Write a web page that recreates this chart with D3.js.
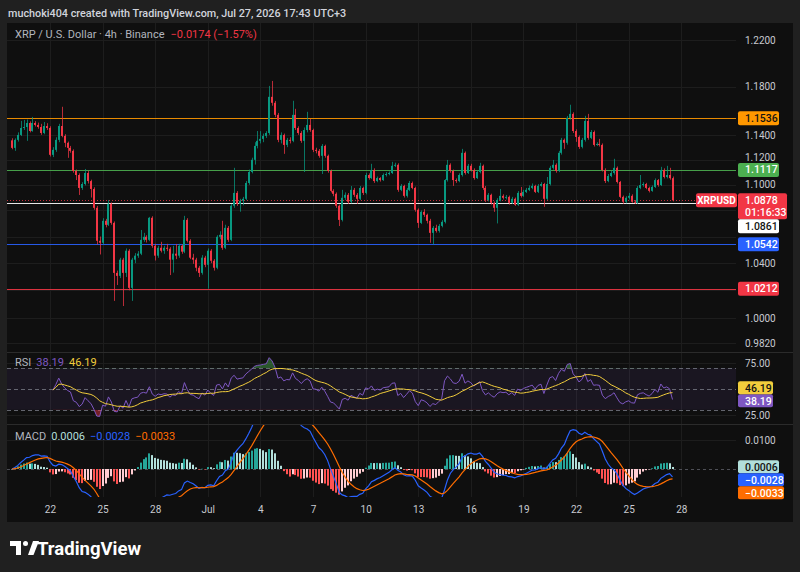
<!DOCTYPE html>
<html>
<head>
<meta charset="utf-8">
<script src="https://cdn.jsdelivr.net/npm/d3@7"></script>
<style>
html,body{margin:0;padding:0;background:#202020;}
svg{display:block;font-family:Roboto,"Noto Sans",sans-serif;}
</style>
</head>
<body>
<svg id="chart" width="800" height="572"></svg>
<script>
// XRP / U.S. Dollar, 4h candles, Binance
const firstCandle = Date.UTC(2026, 5, 19, 23); // local UTC+3 time, stored as UTC fields
const firstOpen = 1.1355;

const closes = [
  1.1294,1.1359,1.1399,1.1456,1.1464,1.1497,1.1431,1.1497,1.1481,1.1464,
  1.1415,1.1472,1.1456,1.1238,1.1278,1.1359,1.1472,1.1391,1.1335,1.1294,
  1.1270,1.1109,1.1077,1.0975,1.1006,1.1093,1.1029,1.0967,1.0820,1.0568,
  1.0553,1.0720,1.0689,1.0851,1.0704,1.0328,1.0306,1.0426,1.0328,1.0493,
  1.0218,1.0426,1.0456,1.0471,1.0575,1.0598,1.0575,1.0743,1.0530,1.0456,
  1.0515,1.0493,1.0515,1.0508,1.0426,1.0471,1.0456,1.0530,1.0486,1.0727,
  1.0568,1.0441,1.0426,1.0366,1.0328,1.0441,1.0388,1.0493,1.0418,1.0366,
  1.0598,1.0613,1.0515,1.0666,1.0575,1.0836,1.0936,1.0851,1.0875,1.0890,
  1.1014,1.1101,1.1198,1.1310,1.1351,1.1367,1.1391,1.1415,1.1714,1.1664,
  1.1564,1.1359,1.1399,1.1318,1.1359,1.1351,1.1564,1.1456,1.1415,1.1351,
  1.1439,1.1481,1.1439,1.1278,1.1270,1.1230,1.1310,1.1230,1.1109,1.0952,
  1.0929,1.0836,1.0727,1.0898,1.0921,1.0867,1.0960,1.0921,1.0890,1.0975,
  1.0936,1.1077,1.1053,1.1117,1.1029,1.1053,1.1037,1.1077,1.1085,1.1093,
  1.1150,1.1158,1.0960,1.0991,1.0913,1.0960,1.1014,1.0975,1.0805,1.0704,
  1.0789,1.0766,1.0720,1.0628,1.0666,1.0643,1.0681,1.0712,1.1037,1.1158,
  1.1109,1.1037,1.1029,1.1077,1.1254,1.1093,1.1150,1.1117,1.1053,1.1101,
  1.1150,1.0975,1.0881,1.0921,1.0859,1.0820,1.0881,1.0913,1.0898,1.0905,
  1.0859,1.0890,1.0844,1.0936,1.0913,1.0944,1.0960,1.0975,1.0991,1.0944,
  1.0991,1.1006,1.0890,1.1006,1.1134,1.1158,1.1109,1.1254,1.1359,1.1335,
  1.1539,1.1572,1.1431,1.1383,1.1302,1.1359,1.1514,1.1375,1.1423,1.1318,
  1.1326,1.1318,1.1117,1.1029,1.1069,1.1093,1.1134,1.1022,1.0905,1.0867,
  1.0898,1.0913,1.0867,1.0859,1.0975,1.0998,1.1006,1.0975,1.0952,1.0983,
  1.1037,1.0998,1.1117,1.1061,1.1077,1.1052,1.0878
];

const highs = [
  1.1372,1.1371,1.1420,1.1514,1.1522,1.1525,1.1510,1.1547,1.1512,1.1500,
  1.1490,1.1505,1.1495,1.1470,1.1300,1.1380,1.1490,1.1631,1.1405,1.1345,
  1.1310,1.1282,1.1120,1.1090,1.1020,1.1125,1.1110,1.1040,1.0980,1.0835,
  1.0600,1.0740,1.0735,1.0881,1.0862,1.0715,1.0345,1.0440,1.0440,1.0510,
  1.0505,1.0440,1.0475,1.0490,1.0650,1.0628,1.0610,1.0750,1.0755,1.0545,
  1.0530,1.0560,1.0530,1.0545,1.0520,1.0530,1.0544,1.0545,1.0540,1.0758,
  1.0740,1.0580,1.0470,1.0440,1.0380,1.0460,1.0455,1.0510,1.0505,1.0430,
  1.0610,1.0640,1.0720,1.0690,1.0680,1.0850,1.1134,1.0950,1.0890,1.0905,
  1.1030,1.1120,1.1215,1.1340,1.1431,1.1430,1.1410,1.1430,1.1806,1.1848,
  1.1680,1.1580,1.1420,1.1410,1.1375,1.1380,1.1681,1.1614,1.1470,1.1430,
  1.1460,1.1589,1.1530,1.1450,1.1295,1.1285,1.1325,1.1320,1.1240,1.1120,
  1.0965,1.0940,1.0845,1.0960,1.0940,1.0935,1.0990,1.0975,1.0935,1.0990,
  1.0985,1.1095,1.1090,1.1166,1.1130,1.1065,1.1060,1.1090,1.1100,1.1105,
  1.1182,1.1175,1.1170,1.1005,1.1000,1.0975,1.1030,1.1025,1.0985,1.0815,
  1.0800,1.0810,1.0775,1.0735,1.0680,1.0690,1.0695,1.0725,1.1045,1.1197,
  1.1170,1.1120,1.1050,1.1090,1.1286,1.1265,1.1165,1.1166,1.1130,1.1115,
  1.1174,1.1160,1.0990,1.0935,1.0930,1.0870,1.0895,1.0967,1.0925,1.0920,
  1.0915,1.0905,1.0900,1.0950,1.0983,1.0960,1.0975,1.0995,1.1010,1.1000,
  1.1005,1.1020,1.1015,1.1061,1.1150,1.1197,1.1170,1.1270,1.1375,1.1370,
  1.1555,1.1648,1.1585,1.1445,1.1395,1.1375,1.1556,1.1572,1.1439,1.1435,
  1.1340,1.1367,1.1330,1.1130,1.1085,1.1110,1.1206,1.1145,1.1030,1.0915,
  1.0910,1.0936,1.0925,1.0880,1.0990,1.1077,1.1020,1.1015,1.0985,1.0995,
  1.1050,1.1045,1.1142,1.1130,1.1150,1.1134,1.1065
];

const lows = [
  1.1283,1.1270,1.1345,1.1390,1.1440,1.1351,1.1420,1.1425,1.1468,1.1450,
  1.1400,1.1405,1.1440,1.1225,1.1220,1.1262,1.1340,1.1380,1.1300,1.1214,
  1.1255,1.1095,1.1037,1.0920,1.0960,1.0995,1.1010,1.0900,1.0805,1.0540,
  1.0465,1.0540,1.0670,1.0680,1.0690,1.0123,1.0239,1.0290,1.0086,1.0298,
  1.0200,1.0123,1.0400,1.0440,1.0460,1.0560,1.0555,1.0565,1.0515,1.0420,
  1.0440,1.0480,1.0470,1.0490,1.0312,1.0330,1.0430,1.0440,1.0470,1.0475,
  1.0555,1.0430,1.0395,1.0340,1.0298,1.0315,1.0370,1.0212,1.0400,1.0345,
  1.0355,1.0580,1.0500,1.0505,1.0560,1.0565,1.0820,1.0835,1.0790,1.0840,
  1.0880,1.1000,1.1090,1.1160,1.1290,1.1330,1.1340,1.1375,1.1400,1.1640,
  1.1545,1.1340,1.1330,1.1246,1.1300,1.1330,1.1340,1.1440,1.1400,1.1335,
  1.1101,1.1420,1.1425,1.1260,1.1250,1.1215,1.1085,1.1215,1.1095,1.0940,
  1.0910,1.0820,1.0680,1.0715,1.0880,1.0850,1.0855,1.0905,1.0850,1.0880,
  1.0920,1.0925,1.1040,1.1045,1.1015,1.1020,1.1025,1.1030,1.1065,1.1075,
  1.1085,1.1140,1.0945,1.0950,1.0900,1.0900,1.0950,1.0965,1.0790,1.0666,
  1.0695,1.0750,1.0700,1.0553,1.0540,1.0630,1.0630,1.0670,1.0700,1.1025,
  1.1095,1.0991,1.1015,1.1020,1.1065,1.1080,1.1085,1.1105,1.1040,1.1045,
  1.1090,1.0960,1.0865,1.0870,1.0845,1.0789,1.0700,1.0870,1.0885,1.0885,
  1.0845,1.0850,1.0835,1.0835,1.0900,1.0905,1.0935,1.0950,1.0965,1.0935,
  1.0935,1.0985,1.0828,1.0880,1.0995,1.1120,1.1095,1.1100,1.1240,1.1286,
  1.1320,1.1525,1.1415,1.1343,1.1286,1.1290,1.1345,1.1360,1.1365,1.1305,
  1.1310,1.1305,1.1105,1.1014,1.1020,1.1060,1.1080,1.1010,1.0895,1.0851,
  1.0855,1.0885,1.0860,1.0850,1.0850,1.0965,1.0985,1.0965,1.0940,1.0945,
  1.0975,1.0985,1.0990,1.1050,1.1050,1.1040,1.0870
];

// horizontal drawings on the chart
const levelValues = [1.1536, 1.1117, 1.0861, 1.0542, 1.0212];
const levelColors = ['#ff9800', '#4caf50', '#ffffff', '#2962ff', '#f23645'];
const levelText   = ['#131313', '#ffffff', '#131313', '#ffffff', '#ffffff'];

const priceTicks = [1.22, 1.18, 1.14, 1.12, 1.10, 1.08, 1.06, 1.04, 1.02, 1.00, 0.982];
const rsiTicks = [75, 25];
const macdTicks = [0.01];
const tickDays = [[6,22],[6,25],[6,28],[7,1],[7,4],[7,7],[7,10],[7,13],[7,16],[7,19],[7,22],[7,25],[7,28]];

const headerText = 'muchoki404 created with TradingView.com, Jul 27, 2026 17:43 UTC+3';
const symbolText = 'XRP / U.S. Dollar \u00b7 4h \u00b7 Binance';
const changeText = '\u22120.0174 (\u22121.57%)';
const countdown = '01:16:33';
const rsiLegend = [38.19, 46.19];
const macdLegend = [0.0006, -0.0028, -0.0033];

// ---------------------------------------------------------------
const svg = d3.select('#chart');
const W = 800, H = 572;
const L = 7, R = 793, T = 23, B = 522, PX = 736;
const mainTop = T, mainBot = 352, rsiTop = 353, rsiBot = 424, macdTop = 425, macdBot = 497;
const UP = '#089981', DOWN = '#f23645';
const AXIS_TXT = '#c8cad0';
const GRID = '#1d1d1d';

const n = closes.length;
const times = closes.map((_, i) => d3.utcHour.offset(new Date(firstCandle), 4 * i));
const opens = closes.map((c, i) => i === 0 ? firstOpen : closes[i - 1]);

const x = d3.scaleUtc().domain([times[0], times[n - 1]]).range([12, 672.5]);
const y = d3.scaleLog().domain([1.0, 1.22]).range([318, 40]);
const yR = d3.scaleLinear().domain([25, 75]).range([415, 363]);
const yM = d3.scaleLinear().domain([0, 0.01]).range([469, 440]);

// indicators (RSI 14 with its 14-bar SMA, MACD 12/26/9)
const RSI_LEN = 14;
const rsi = [], rsiMA = [];
let ag = 0, al = 0;
for (let i = 1; i < n; i++) {
  const ch = closes[i] - closes[i - 1];
  const k = Math.min(i, RSI_LEN);
  ag += (Math.max(ch, 0) - ag) / k;
  al += (Math.max(-ch, 0) - al) / k;
  rsi[i] = al === 0 ? 100 : 100 - 100 / (1 + ag / al);
}
for (let i = RSI_LEN; i < n; i++) rsiMA[i] = d3.mean(rsi.slice(Math.max(RSI_LEN, i - RSI_LEN + 1), i + 1));

function ema(arr, len) {
  const a = 2 / (len + 1), out = [];
  arr.forEach((v, i) => out.push(i === 0 ? v : out[i - 1] + a * (v - out[i - 1])));
  return out;
}
const e12 = ema(closes, 12), e26 = ema(closes, 26);
const macd = closes.map((_, i) => e12[i] - e26[i]);
const signal = ema(macd, 9);
const hist = macd.map((m, i) => m - signal[i]);

// ---------------------------------------------------------------
svg.append('rect').attr('width', W).attr('height', H).attr('fill', '#202020');
svg.append('rect').attr('x', L).attr('y', T).attr('width', R - L).attr('height', B - T).attr('fill', '#0f0f0f');

const defs = svg.append('defs');
function clip(id, x0, y0, w, h) {
  defs.append('clipPath').attr('id', id).append('rect').attr('x', x0).attr('y', y0).attr('width', w).attr('height', h);
  return `url(#${id})`;
}
const clipMain = clip('cMain', L, mainTop, PX - L, mainBot - mainTop);
const clipRsi = clip('cRsi', L, rsiTop, PX - L, rsiBot - rsiTop);
const clipMacd = clip('cMacd', L, macdTop, PX - L, macdBot - macdTop);
const clipOB = clip('cOB', L, rsiTop, PX - L, yR(70) - rsiTop);
const clipOS = clip('cOS', L, yR(30), PX - L, rsiBot - yR(30));

// grid
const tickTimes = tickDays.map(([m, d]) => new Date(Date.UTC(2026, m - 1, d, 3)));
const grid = svg.append('g').attr('stroke', GRID).attr('stroke-width', 1);
grid.selectAll('line.v').data(tickTimes).join('line')
  .attr('x1', d => Math.round(x(d)) + 0.5).attr('x2', d => Math.round(x(d)) + 0.5)
  .attr('y1', T).attr('y2', macdBot);
grid.selectAll('line.p').data(priceTicks).join('line')
  .attr('x1', L).attr('x2', PX).attr('y1', d => Math.round(y(d)) + 0.5).attr('y2', d => Math.round(y(d)) + 0.5);
grid.selectAll('line.r').data(rsiTicks).join('line')
  .attr('x1', L).attr('x2', PX).attr('y1', d => Math.round(yR(d)) + 0.5).attr('y2', d => Math.round(yR(d)) + 0.5);
grid.selectAll('line.m').data(macdTicks).join('line')
  .attr('x1', L).attr('x2', PX).attr('y1', d => Math.round(yM(d)) + 0.5).attr('y2', d => Math.round(yM(d)) + 0.5);

// pane separators
svg.append('g').attr('stroke', '#2b2b2b').selectAll('line').data([mainBot + 0.5, rsiBot + 0.5]).join('line')
  .attr('x1', L).attr('x2', R).attr('y1', d => d).attr('y2', d => d);

// ---------------- main pane ----------------
const gMain = svg.append('g').attr('clip-path', clipMain);

gMain.selectAll('line.lvl').data(levelValues).join('line')
  .attr('x1', L).attr('x2', PX)
  .attr('y1', d => Math.round(y(d)) + 0.5).attr('y2', d => Math.round(y(d)) + 0.5)
  .attr('stroke', (d, i) => levelColors[i]).attr('stroke-width', 1).attr('opacity', 0.9);

const lastClose = closes[n - 1];
gMain.append('line').attr('x1', L).attr('x2', PX)
  .attr('y1', Math.round(y(lastClose)) + 0.5).attr('y2', Math.round(y(lastClose)) + 0.5)
  .attr('stroke', DOWN).attr('stroke-dasharray', '1,2').attr('opacity', 0.8);

const candles = closes.map((c, i) => ({ t: times[i], o: opens[i], h: highs[i], l: lows[i], c }));
const cg = gMain.selectAll('g.candle').data(candles).join('g')
  .attr('fill', d => d.c >= d.o ? UP : DOWN);
cg.append('rect')
  .attr('x', d => Math.round(x(d.t) - 1) + 1).attr('width', 1)
  .attr('y', d => y(d.h)).attr('height', d => Math.max(1, y(d.l) - y(d.h)))
  .attr('opacity', 0.75);
cg.append('rect')
  .attr('x', d => Math.round(x(d.t) - 1)).attr('width', 2)
  .attr('y', d => y(Math.max(d.o, d.c)))
  .attr('height', d => Math.max(1, Math.abs(y(d.o) - y(d.c))));

const leg = svg.append('text').attr('x', 15).attr('y', 38).attr('font-size', 11);
leg.append('tspan').attr('fill', '#b2b5be').text(symbolText);
leg.append('tspan').attr('dx', 6).attr('fill', DOWN).text(changeText);

// ---------------- RSI pane ----------------
const gR = svg.append('g').attr('clip-path', clipRsi);
gR.append('rect').attr('x', L).attr('width', PX - L)
  .attr('y', yR(70)).attr('height', yR(30) - yR(70)).attr('fill', 'rgba(126,87,194,0.1)');
gR.selectAll('line.lv').data([70, 50, 30]).join('line')
  .attr('x1', L).attr('x2', PX).attr('y1', d => Math.round(yR(d)) + 0.5).attr('y2', d => Math.round(yR(d)) + 0.5)
  .attr('stroke', '#787b86').attr('stroke-dasharray', '4,3').attr('opacity', 0.8);

// RSI is drawn once its 14-bar warm-up is complete
const rsiPts = rsi.map((v, i) => ({ t: times[i], v, m: rsiMA[i] })).filter((d, i) => i >= RSI_LEN);
const area70 = d3.area().x(d => x(d.t)).y0(yR(70)).y1(d => yR(d.v));
const area30 = d3.area().x(d => x(d.t)).y0(yR(30)).y1(d => yR(d.v));
gR.append('path').datum(rsiPts).attr('d', area70).attr('fill', 'rgba(76,175,80,0.45)').attr('clip-path', clipOB);
gR.append('path').datum(rsiPts).attr('d', area30).attr('fill', 'rgba(242,54,69,0.45)').attr('clip-path', clipOS);
gR.append('path').datum(rsiPts).attr('fill', 'none').attr('stroke', '#7e57c2').attr('stroke-width', 1)
  .attr('d', d3.line().x(d => x(d.t)).y(d => yR(d.v)));
gR.append('path').datum(rsiPts).attr('fill', 'none').attr('stroke', '#f2cd3c').attr('stroke-width', 1)
  .attr('d', d3.line().x(d => x(d.t)).y(d => yR(d.m)));

const rl = svg.append('text').attr('x', 15).attr('y', 366).attr('font-size', 11);
rl.append('tspan').attr('fill', '#b2b5be').text('RSI');
rl.append('tspan').attr('dx', 5).attr('fill', '#7e57c2').text(rsiLegend[0].toFixed(2));
rl.append('tspan').attr('dx', 5).attr('fill', '#f2cd3c').text(rsiLegend[1].toFixed(2));

// ---------------- MACD pane ----------------
const gM = svg.append('g').attr('clip-path', clipMacd);
gM.append('line').attr('x1', L).attr('x2', PX).attr('y1', Math.round(yM(0)) + 0.5).attr('y2', Math.round(yM(0)) + 0.5)
  .attr('stroke', '#787b86').attr('stroke-dasharray', '3,3').attr('opacity', 0.6);
const histPts = hist.map((v, i) => ({ t: times[i], v, p: i ? hist[i - 1] : v }));
gM.selectAll('rect.h').data(histPts).join('rect')
  .attr('x', d => Math.round(x(d.t) - 1)).attr('width', 2)
  .attr('y', d => Math.min(yM(0), yM(d.v))).attr('height', d => Math.max(0.5, Math.abs(yM(d.v) - yM(0))))
  .attr('fill', d => d.v >= 0 ? (d.v > d.p ? '#26a69a' : '#b2dfdb') : (d.v < d.p ? '#ff5252' : '#ffcdd2'));
const mPts = macd.map((v, i) => ({ t: times[i], m: v, s: signal[i] }));
gM.append('path').datum(mPts).attr('fill', 'none').attr('stroke', '#2962ff').attr('stroke-width', 1.2)
  .attr('d', d3.line().x(d => x(d.t)).y(d => yM(d.m)));
gM.append('path').datum(mPts).attr('fill', 'none').attr('stroke', '#ff6d00').attr('stroke-width', 1.2)
  .attr('d', d3.line().x(d => x(d.t)).y(d => yM(d.s)));

const fmtM = v => d3.format('.4f')(v).replace('-', '\u2212');
const ml = svg.append('text').attr('x', 15).attr('y', 440).attr('font-size', 11);
ml.append('tspan').attr('fill', '#b2b5be').text('MACD');
ml.append('tspan').attr('dx', 5).attr('fill', '#b2dfdb').text(fmtM(macdLegend[0]));
ml.append('tspan').attr('dx', 5).attr('fill', '#2962ff').text(fmtM(macdLegend[1]));
ml.append('tspan').attr('dx', 5).attr('fill', '#ff6d00').text(fmtM(macdLegend[2]));

// ---------------- price-axis labels (placed first so ticks can dodge them) ----------------
function placeLabels(items) {
  const placed = [];
  items.forEach(it => {
    it.top = it.yc - 7;
    for (let pass = 0; pass < 4; pass++) {
      placed.forEach(p => {
        if (it.top < p.top + p.h && it.top + it.h > p.top) {
          it.top = it.v < p.v ? p.top + p.h : p.top - it.h;
        }
      });
    }
    placed.push(it);
  });
  return placed;
}
const mainItems = [{ v: lastClose, yc: y(lastClose), h: 26, w: 49, bg: DOWN, fg: '#fff',
  lines: [lastClose.toFixed(4), countdown] }];
levelValues.forEach((v, i) => mainItems.push({ v, yc: y(v), h: 14, w: 41, bg: levelColors[i], fg: levelText[i], lines: [v.toFixed(4)] }));
const mainBoxes = placeLabels(mainItems);

// ---------------- axes ----------------
function styleAxis(g) {
  g.select('.domain').remove();
  g.selectAll('.tick line').remove();
  g.selectAll('.tick text').attr('fill', AXIS_TXT).attr('font-size', 10).attr('font-family', 'Roboto, sans-serif');
}
svg.append('g').attr('transform', `translate(0,506)`)
  .call(d3.axisBottom(x).tickValues(tickTimes).tickSize(0).tickPadding(0)
    .tickFormat(d => d.getUTCDate() === 1 ? d3.utcFormat('%b')(d) : d.getUTCDate()))
  .call(styleAxis);

// a tick label hidden under a label box is dropped; one that only touches it is nudged clear
const overlapOf = v => {
  const t = y(v) - 5.5, b = y(v) + 5.5;
  let best = { d: 0, shift: 0 };
  mainBoxes.forEach(bx => {
    const d = Math.min(b, bx.top + bx.h) - Math.max(t, bx.top);
    if (d > best.d) best = { d, shift: y(v) < bx.top + bx.h / 2 ? -(d + 0.5) : d + 0.5 };
  });
  return best;
};
const visibleTicks = priceTicks.filter(v => overlapOf(v).d <= 3);
svg.append('g').attr('transform', `translate(${PX},0)`)
  .call(d3.axisRight(y).tickValues(visibleTicks).tickSize(0).tickPadding(9).tickFormat(d3.format('.4f')))
  .call(styleAxis)
  .selectAll('.tick text').attr('y', v => overlapOf(v).shift);
svg.append('g').attr('transform', `translate(${PX},0)`)
  .call(d3.axisRight(yR).tickValues(rsiTicks).tickSize(0).tickPadding(9).tickFormat(d3.format('.2f')))
  .call(styleAxis);
svg.append('g').attr('transform', `translate(${PX},0)`)
  .call(d3.axisRight(yM).tickValues(macdTicks).tickSize(0).tickPadding(9).tickFormat(d3.format('.4f')))
  .call(styleAxis);

function drawLabels(items) {
  const g = svg.append('g').attr('font-size', 10.5);
  items.forEach(it => {
    g.append('rect').attr('x', 738).attr('y', it.top).attr('width', it.w).attr('height', it.h)
      .attr('rx', 2).attr('fill', it.bg);
    it.lines.forEach((s, k) => {
      g.append('text').attr('x', 745).attr('y', it.top + 10.5 + k * 12.5)
        .attr('fill', it.fg).attr('font-weight', 500).text(s);
    });
  });
}
drawLabels(mainBoxes);

// symbol tag
const tagY = y(lastClose);
svg.append('rect').attr('x', 696).attr('y', tagY - 7).attr('width', 41).attr('height', 14).attr('rx', 2).attr('fill', DOWN);
svg.append('text').attr('x', 716.5).attr('y', tagY + 4).attr('text-anchor', 'middle')
  .attr('fill', '#fff').attr('font-size', 10).attr('font-weight', 700).text('XRPUSD');

drawLabels(placeLabels([
  { v: rsiLegend[0], yc: yR(rsiLegend[0]), h: 13, w: 35, bg: '#7e57c2', fg: '#fff', lines: [rsiLegend[0].toFixed(2)] },
  { v: rsiLegend[1], yc: yR(rsiLegend[1]), h: 13, w: 35, bg: '#f2cd3c', fg: '#131313', lines: [rsiLegend[1].toFixed(2)] }
]));
drawLabels(placeLabels([
  { v: macdLegend[0], yc: yM(macdLegend[0]), h: 13, w: 41, bg: '#b2dfdb', fg: '#131313', lines: [fmtM(macdLegend[0])] },
  { v: macdLegend[1], yc: yM(macdLegend[1]), h: 13, w: 46, bg: '#2962ff', fg: '#fff', lines: [fmtM(macdLegend[1])] },
  { v: macdLegend[2], yc: yM(macdLegend[2]), h: 13, w: 46, bg: '#ff6d00', fg: '#fff', lines: [fmtM(macdLegend[2])] }
]));

// ---------------- header & footer ----------------
svg.append('text').attr('x', 8).attr('y', 17).attr('font-size', 10.8).attr('font-weight', 500)
  .attr('fill', '#d1d4dc').text(headerText);

const logo = svg.append('g').attr('transform', 'translate(10,541)').attr('fill', '#ffffff');
logo.append('path').attr('d', 'M0 0H11V14H6V5H0Z');
logo.append('circle').attr('cx', 15.5).attr('cy', 2.5).attr('r', 2.5);
logo.append('path').attr('d', 'M18 14L23 0H29L23.5 14Z');
svg.append('text').attr('x', 37).attr('y', 555).attr('font-size', 18.5).attr('font-weight', 700)
  .attr('fill', '#ffffff').text('TradingView');
</script>
</body>
</html>
